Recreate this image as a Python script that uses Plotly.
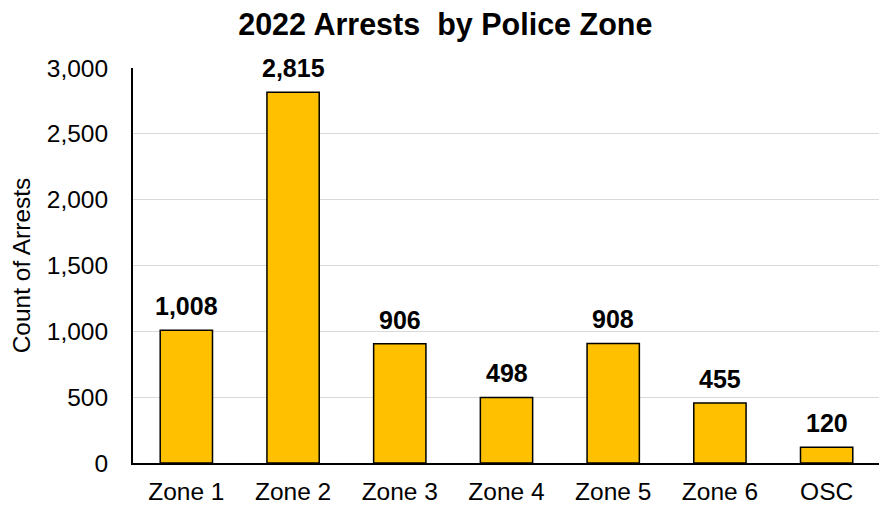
import plotly.graph_objects as go

zones = ["Zone 1", "Zone 2", "Zone 3", "Zone 4", "Zone 5", "Zone 6", "OSC"]
arrests = [1008, 2815, 906, 498, 908, 455, 120]
y_ticks = [0, 500, 1000, 1500, 2000, 2500, 3000]

fig = go.Figure()
fig.add_trace(go.Bar(
    x=zones, y=arrests,
    marker=dict(color="#FFC000", line=dict(color="black", width=1.5)),
    width=0.49,
))
for z, v in zip(zones, arrests):
    fig.add_annotation(
        x=z, y=v, xref="x", yref="y",
        text=f"<b>{v:,}</b>", showarrow=False,
        yanchor="middle", yshift=24,
        font=dict(family="Liberation Sans", size=25, color="black"),
    )
fig.update_layout(
    width=887, height=508,
    margin=dict(l=125, r=15, t=60, b=53, autoexpand=False),
    paper_bgcolor="white", plot_bgcolor="white",
    font=dict(family="Liberation Sans", color="black"),
    title=dict(text="<b>2022 Arrests  by Police Zone</b>", x=0.493, xanchor="center",
               y=0.967, yanchor="middle", font=dict(size=30.5, color="black")),
    showlegend=False,
    bargap=0.51,
)
fig.update_yaxes(
    range=[0, 3000], tickvals=y_ticks, tickformat=",",
    showgrid=True, gridcolor="#D9D9D9", gridwidth=1,
    showline=True, linecolor="black", linewidth=2,
    ticks="", tickfont=dict(size=24.5, color="black"),
    ticklabelstandoff=18, automargin=False,
    title=dict(text="Count of Arrests", font=dict(size=24.5, color="black"), standoff=12),
    zeroline=False,
)
fig.update_xaxes(
    showline=True, linecolor="black", linewidth=2,
    ticks="", tickfont=dict(size=24.5, color="black"),
    ticklabelstandoff=6, automargin=False,
)
fig.write_html("out.html")
